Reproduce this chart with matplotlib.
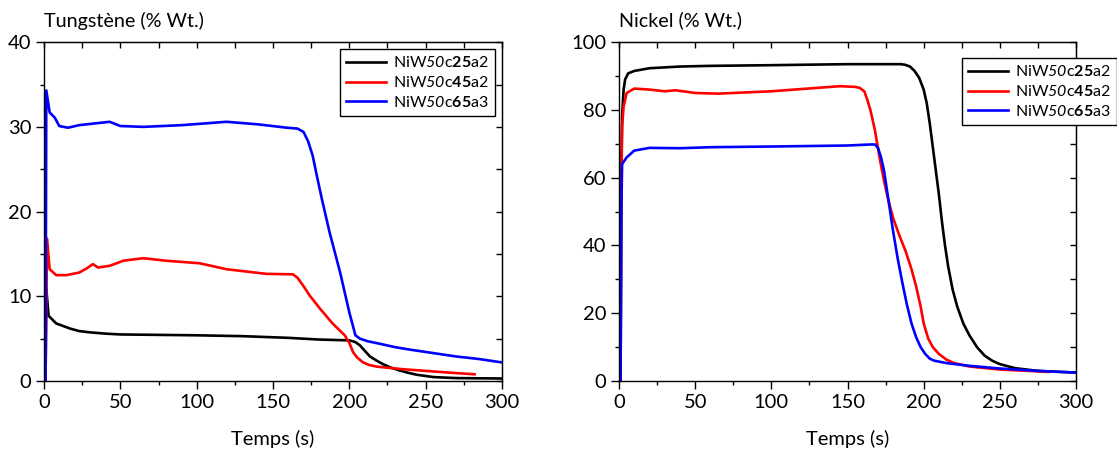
import matplotlib
matplotlib.use("Agg")
import matplotlib.pyplot as plt
from matplotlib.ticker import MultipleLocator

plt.rcParams["font.family"] = ["Lato", "DejaVu Sans"]
# mathtext sends digits of \mathit to the rm font, so rm is the italic one here
plt.rcParams["mathtext.fontset"] = "custom"
plt.rcParams["mathtext.rm"] = "Lato:italic"
plt.rcParams["mathtext.it"] = "Lato:italic"
plt.rcParams["mathtext.bf"] = "Lato:bold"

labels = [r"NiW$\mathrm{50}$c$\mathbf{25}$a2",
          r"NiW$\mathrm{50}$c$\mathbf{45}$a2",
          r"NiW$\mathrm{50}$c$\mathbf{65}$a3"]
colors = ["black", "red", "blue"]

# Tungstene (% Wt.)
w_c25_t = [0, 1, 1.5, 3, 8, 17, 23, 30, 40, 50, 100, 130, 160, 180, 200, 204, 207, 210, 213.5, 218, 222, 227, 233, 238, 244, 255, 270, 300]
w_c25_v = [0, 0, 10.9, 7.7, 6.8, 6.2, 5.9, 5.75, 5.6, 5.5, 5.4, 5.3, 5.1, 4.9, 4.8, 4.6, 4.2, 3.6, 2.9, 2.4, 2.0, 1.6, 1.25, 1.0, 0.75, 0.47, 0.35, 0.3]

w_c45_t = [0, 1, 2, 3.7, 8, 14.6, 23, 28, 32, 35.4, 43, 52, 65, 80, 102, 119.5, 145.7, 163, 166, 170, 174, 181, 189, 197, 200, 202.5, 205, 209, 213, 218, 235, 250, 265, 282]
w_c45_v = [0, 0, 16.8, 13.2, 12.5, 12.5, 12.8, 13.3, 13.8, 13.4, 13.6, 14.2, 14.5, 14.2, 13.9, 13.2, 12.65, 12.6, 12.2, 11.2, 10.1, 8.5, 6.8, 5.4, 4.5, 3.4, 2.8, 2.2, 1.9, 1.7, 1.4, 1.2, 1.0, 0.8]

w_c65_t = [0, 1, 1.5, 3.7, 7, 10, 15.7, 23, 43, 50, 65, 90, 119.5, 140, 159, 166, 170, 173, 176, 179, 182, 187, 194, 200, 204, 207, 212, 220, 230, 240, 255, 270, 285, 300]
w_c65_v = [0, 0, 34.3, 31.7, 31.1, 30.1, 29.9, 30.2, 30.6, 30.1, 30.0, 30.2, 30.6, 30.3, 29.9, 29.8, 29.4, 28.3, 26.6, 24.0, 21.5, 17.6, 12.8, 8.1, 5.4, 5.0, 4.7, 4.4, 4.0, 3.7, 3.3, 2.9, 2.6, 2.2]

# Nickel (% Wt.)
ni_c25_t = [0, 1, 1.5, 2, 3, 4, 6, 10, 20, 40, 60, 100, 150, 185, 188, 191, 194, 197, 200, 202, 204, 206, 208, 210, 212, 214, 216, 219, 222, 226, 230, 235, 240, 245, 250, 260, 275, 300]
ni_c25_v = [0, 0, 60, 78, 86, 89, 90.8, 91.5, 92.3, 92.8, 93, 93.2, 93.5, 93.5, 93.3, 92.8, 91.5, 89.5, 86, 82, 76, 69, 62, 55, 47, 40, 34, 27, 22, 17, 13.5, 10, 7.5, 6, 5, 3.8, 3.0, 2.5]

ni_c45_t = [0, 1, 1.5, 2, 3, 5, 10, 20, 30, 37, 50, 65, 100, 130, 145, 155, 158, 161, 163, 165, 168, 171, 174, 177, 180, 184, 188, 192, 195, 198, 200, 203, 206, 210, 215, 220, 230, 250, 282]
ni_c45_v = [0, 0, 55, 75, 81, 85, 86.3, 86, 85.5, 85.8, 85, 84.8, 85.5, 86.5, 87, 86.8, 86.5, 85.5, 83, 80, 74, 66, 59, 53, 48, 43, 38.5, 33, 28, 22, 17, 12.5, 10, 8, 6.3, 5.3, 4.3, 3.4, 2.7]

ni_c65_t = [0, 1, 1.5, 2, 5, 10, 20, 40, 60, 100, 150, 165, 168, 170, 172, 174, 176, 178, 180, 183, 186, 189, 192, 195, 198, 201, 204, 207, 215, 230, 250, 275, 300]
ni_c65_v = [0, 0, 50, 64, 66, 68, 68.8, 68.7, 69, 69.2, 69.5, 69.8, 69.8, 68.8, 66, 62, 56, 50, 44, 36, 29, 22.5, 17, 13, 10, 8, 6.6, 6, 5.3, 4.5, 3.7, 3.0, 2.5]


def style_axes(ax, ymax, ystep):
    ax.set_xlim(0, 300)
    ax.set_ylim(0, ymax)
    ax.xaxis.set_major_locator(MultipleLocator(50))
    ax.xaxis.set_minor_locator(MultipleLocator(25))
    ax.yaxis.set_major_locator(MultipleLocator(ystep))
    ax.yaxis.set_minor_locator(MultipleLocator(ystep / 2))
    ax.tick_params(which="major", direction="out", length=6, width=1, labelsize=14.5, pad=3)
    ax.tick_params(which="minor", direction="out", length=3, width=1)
    for s in ax.spines.values():
        s.set_linewidth(1.0)
    top = ax.secondary_xaxis("top")
    top.xaxis.set_major_locator(MultipleLocator(25))
    top.tick_params(direction="in", length=4, width=1, labeltop=False)
    right = ax.secondary_yaxis("right")
    right.yaxis.set_major_locator(MultipleLocator(ystep / 2))
    right.tick_params(direction="in", length=4, width=1, labelright=False)
    ax.set_xlabel("Temps (s)", fontsize=14.5, labelpad=14)


fig = plt.figure(figsize=(11.17, 4.58), dpi=100)
ax1 = fig.add_axes([0.0394, 0.168, 0.41, 0.740])
ax2 = fig.add_axes([0.5542, 0.168, 0.4091, 0.740])

for t, v, c, lab in zip([w_c25_t, w_c45_t, w_c65_t], [w_c25_v, w_c45_v, w_c65_v], colors, labels):
    ax1.plot(t, v, color=c, lw=1.9, label=lab)
for t, v, c, lab in zip([ni_c25_t, ni_c45_t, ni_c65_t], [ni_c25_v, ni_c45_v, ni_c65_v], colors, labels):
    ax2.plot(t, v, color=c, lw=1.9, label=lab)

style_axes(ax1, 40, 10)
style_axes(ax2, 100, 20)

fig.text(0.0394, 0.955, "Tungstène (% Wt.)", fontsize=14.2, ha="left", va="center")
fig.text(0.5542, 0.955, "Nickel (% Wt.)", fontsize=14.2, ha="left", va="center")

leg_kw = dict(fontsize=11.5, frameon=True, fancybox=False, edgecolor="black",
              framealpha=1, handlelength=2.5, borderpad=0.4, labelspacing=0.3,
              handletextpad=0.4, borderaxespad=0, loc="upper left")
l1 = ax1.legend(bbox_to_anchor=(340 / 1117, 1 - 49 / 458), bbox_transform=fig.transFigure, **leg_kw)
l2 = ax2.legend(bbox_to_anchor=(962 / 1117, 1 - 58 / 458), bbox_transform=fig.transFigure, **leg_kw)
for l in (l1, l2):
    l.get_frame().set_linewidth(1.0)

fig.savefig("out.png", dpi=100)
